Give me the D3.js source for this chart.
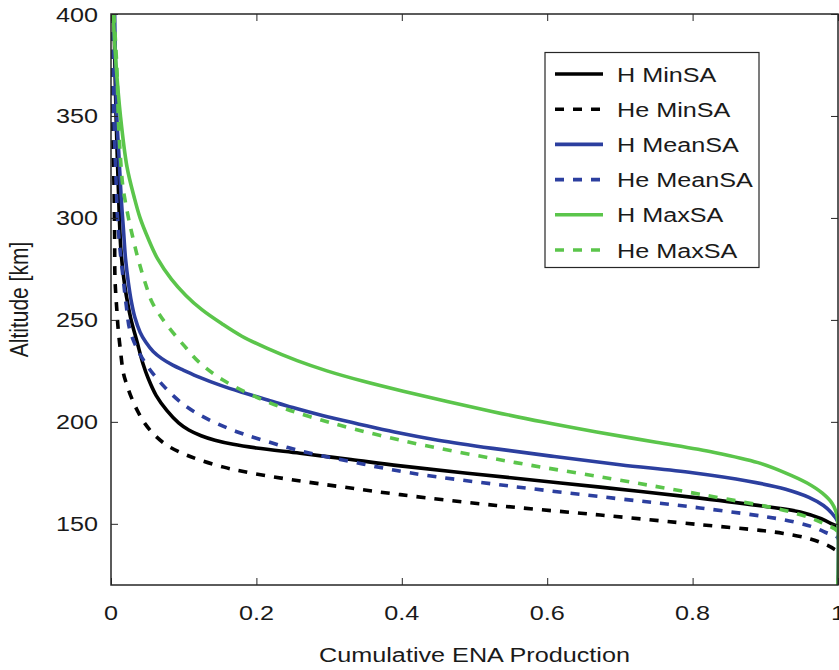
<!DOCTYPE html>
<html>
<head>
<meta charset="utf-8">
<script src="https://cdn.jsdelivr.net/npm/d3@7"></script>
<style>
  html, body { margin: 0; padding: 0; background: #fff; }
  svg { display: block; }
  text { font-family: "Liberation Sans", Arial, Helvetica, sans-serif; fill: #1a1a1a; }
</style>
</head>
<body>
<svg id="chart" width="839" height="670"></svg>
<script>
// ---------- data ----------
const xTicks = [0, 0.2, 0.4, 0.6, 0.8, 1];
const xTickLabels = ["0", "0.2", "0.4", "0.6", "0.8", "1"];
const yTicks = [150, 200, 250, 300, 350, 400];
const yTickLabels = ["150", "200", "250", "300", "350", "400"];

const seriesNames = ["H MinSA", "He MinSA", "H MeanSA", "He MeanSA", "H MaxSA", "He MaxSA"];
const seriesColors = ["#000000", "#000000", "#2c3f9f", "#2c3f9f", "#5bc54b", "#5bc54b"];
const seriesDashed = [false, true, false, true, false, true];

// [cumulative ENA production, altitude km]
const hMinSA = [[0.004,400],[0.007,350],[0.0115,300],[0.0135,285],[0.017,272],[0.021,262],[0.027,251],[0.036,239],[0.044,228.5],[0.051,221.5],[0.062,213],[0.077,205.5],[0.093,199.5],[0.107,196],[0.124,193.2],[0.143,191],[0.168,189],[0.2,187.2],[0.26,184.6],[0.33,181.5],[0.398,178.4],[0.55,172.6],[0.673,168],[0.81,162.6],[0.90,158.5],[0.948,155.8],[0.977,152.5],[0.990,150.2],[1.0,148],[1.0,120]];
const heMinSA = [[0.002,400],[0.002,350],[0.004,318],[0.005,290],[0.0055,270],[0.008,255],[0.010,245],[0.013,235],[0.017,224],[0.021,219],[0.028,212],[0.037,205],[0.047,199],[0.060,193.5],[0.077,188.5],[0.100,184.3],[0.122,181.3],[0.155,177.8],[0.191,175],[0.251,171.5],[0.32,168],[0.398,164.3],[0.53,159],[0.673,154.3],[0.81,149.6],[0.893,146.8],[0.925,145.3],[0.962,142.6],[0.985,139.5],[0.995,137.5],[1.0,136],[1.0,120]];
const hMeanSA = [[0.005,400],[0.008,350],[0.011,330],[0.014,310],[0.017,295],[0.020,280],[0.024,268],[0.028,259],[0.033,251],[0.040,244],[0.048,239],[0.058,234.5],[0.070,231],[0.085,227.8],[0.100,225.3],[0.122,221.8],[0.150,218],[0.18,214.5],[0.213,211],[0.25,207],[0.292,203],[0.34,199],[0.39,195],[0.45,191],[0.525,187],[0.61,183],[0.70,179],[0.80,175],[0.875,171],[0.928,167],[0.960,163],[0.980,159],[0.992,155],[0.999,151.5],[1.0,150],[1.0,120]];
const heMeanSA = [[0.002,400],[0.004,350],[0.007,318],[0.009,300],[0.012,286],[0.017,269.5],[0.021,257],[0.026,245],[0.037,235],[0.047,229],[0.058,223.5],[0.070,218.5],[0.085,213],[0.100,208.5],[0.120,203.8],[0.145,199.3],[0.172,195.3],[0.20,192],[0.26,185.8],[0.33,180.5],[0.411,175],[0.549,168.5],[0.691,162.6],[0.81,157.8],[0.925,152],[0.965,148.5],[0.985,145.5],[1.0,143],[1.0,120]];
const hMaxSA = [[0.003,400],[0.007,375],[0.013,350],[0.022,325],[0.032,310],[0.040,300],[0.051,290],[0.064,280],[0.083,270],[0.103,262],[0.125,255],[0.153,248],[0.180,242],[0.215,236],[0.256,230],[0.297,225],[0.346,220],[0.402,215],[0.4625,210],[0.5255,205],[0.593,200],[0.668,195],[0.75,190],[0.83,185],[0.89,180],[0.9275,175],[0.9575,170],[0.9785,165],[0.992,160],[0.998,155],[1.0,150],[1.0,120]];
const heMaxSA = [[0.004,400],[0.008,374],[0.010,350],[0.011,341.5],[0.015,320],[0.017,313.7],[0.024,300],[0.029,292],[0.035,283],[0.042,274],[0.049,266],[0.056,259],[0.066,253],[0.078,247],[0.099,238],[0.122,229],[0.154,220.5],[0.214,210],[0.274,202.5],[0.398,191],[0.549,180.5],[0.690,172],[0.81,164.5],[0.925,156.7],[0.965,152.5],[0.985,149.3],[1.0,146],[1.0,120]];

const seriesData = [hMinSA, heMinSA, hMeanSA, heMeanSA, hMaxSA, heMaxSA];

// ---------- layout ----------
const L = 111, R = 838, T = 14, B = 585;
const SX = 1.2; // horizontal stretch of the reference's text
const svg = d3.select("#chart");

const x = d3.scaleLinear().domain([0, 1]).range([L, R]);
const y = d3.scaleLinear().domain([120, 400]).range([B, T]);

function stretchedText(g, px, py, str, anchor, rotate) {
  return g.append("text")
    .attr("transform", `translate(${px},${py}) scale(${SX},1)` + (rotate ? ` rotate(${rotate})` : ""))
    .attr("text-anchor", anchor)
    .style("font-size", "21px")
    .text(str);
}

// clip
svg.append("defs").append("clipPath").attr("id", "clip")
  .append("rect").attr("x", L).attr("y", T).attr("width", R - L + 1).attr("height", B - T);

// curves
const line = d3.line()
  .x(d => x(d[0]))
  .y(d => y(d[1]))
  .curve(d3.curveCatmullRom.alpha(0.5));

const curves = svg.append("g").attr("clip-path", "url(#clip)");
seriesData.forEach((data, i) => {
  curves.append("path")
    .datum(data)
    .attr("d", line)
    .attr("fill", "none")
    .attr("stroke", seriesColors[i])
    .attr("stroke-width", 3.6)
    .attr("stroke-dasharray", seriesDashed[i] ? "9,9" : null)
    .attr("stroke-linejoin", "round");
});

// axes (ticks inward on all four sides)
const axisColor = "#262626";
function styleAxis(g) {
  g.select(".domain").remove();
  g.selectAll(".tick line").attr("stroke", axisColor).attr("stroke-width", 1);
  g.selectAll(".tick text").remove();
}
svg.append("g").attr("transform", `translate(0,${B})`)
  .call(d3.axisBottom(x).tickValues(xTicks).tickSize(-7)).call(styleAxis);
svg.append("g").attr("transform", `translate(0,${T})`)
  .call(d3.axisTop(x).tickValues(xTicks).tickSize(-7)).call(styleAxis);
svg.append("g").attr("transform", `translate(${L},0)`)
  .call(d3.axisLeft(y).tickValues(yTicks).tickSize(-7)).call(styleAxis);
svg.append("g").attr("transform", `translate(${R},0)`)
  .call(d3.axisRight(y).tickValues(yTicks).tickSize(-7)).call(styleAxis);

// box
svg.append("rect")
  .attr("x", L).attr("y", T).attr("width", R - L).attr("height", B - T)
  .attr("fill", "none").attr("stroke", axisColor).attr("stroke-width", 1.5);

// tick labels
const labels = svg.append("g");
xTicks.forEach((v, i) => stretchedText(labels, x(v), 620, xTickLabels[i], "middle"));
yTicks.forEach((v, i) => stretchedText(labels, 98, y(v) + 7.5, yTickLabels[i], "end"));

// axis titles
stretchedText(labels, (L + R) / 2, 662, "Cumulative ENA Production", "middle");
stretchedText(labels, 28, (T + B) / 2, "Altitude [km]", "middle", -90);

// legend
const leg = svg.append("g");
leg.append("rect")
  .attr("x", 545).attr("y", 52.5).attr("width", 214).attr("height", 215)
  .attr("fill", "#fff").attr("stroke", axisColor).attr("stroke-width", 1.2);
seriesNames.forEach((name, i) => {
  const ry = 74 + i * 35.2;
  leg.append("line")
    .attr("x1", 555).attr("x2", 603).attr("y1", ry).attr("y2", ry)
    .attr("stroke", seriesColors[i]).attr("stroke-width", 3.6)
    .attr("stroke-dasharray", seriesDashed[i] ? "9,9" : null);
  stretchedText(leg, 617, ry + 7.5, name, "start");
});
</script>
</body>
</html>
